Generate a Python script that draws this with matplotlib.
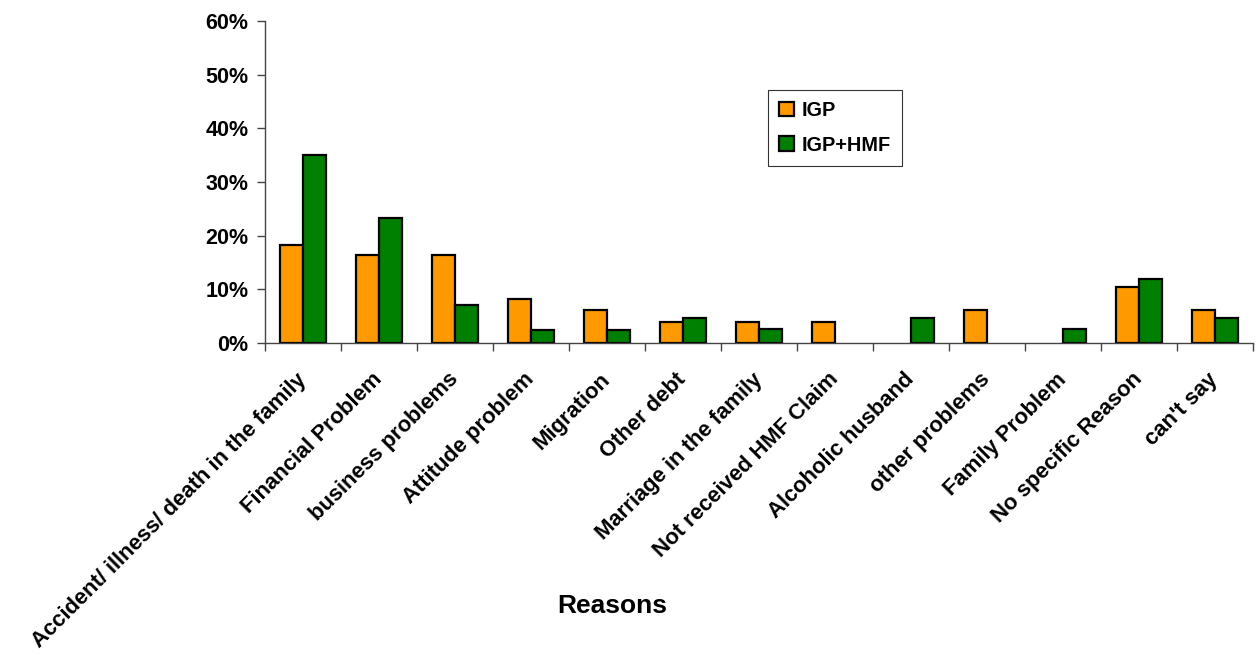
import numpy as np
import matplotlib
matplotlib.use("Agg")
import matplotlib.pyplot as plt
from matplotlib.ticker import FuncFormatter

reasons = [
    "Accident/ illness/ death in the family",
    "Financial Problem",
    "business problems",
    "Attitude problem",
    "Migration",
    "Other debt",
    "Marriage in the family",
    "Not received HMF Claim",
    "Alcoholic husband",
    "other problems",
    "Family Problem",
    "No specific Reason",
    "can't say",
]
igp = [18.2, 16.4, 16.4, 8.2, 6.1, 3.9, 4.0, 4.0, 0.0, 6.2, 0.0, 10.4, 6.2]
igp_hmf = [35.0, 23.2, 7.1, 2.5, 2.5, 4.6, 2.6, 0.0, 4.7, 0.0, 2.6, 11.9, 4.7]

plt.rcParams["font.family"] = ["Liberation Sans", "DejaVu Sans"]
plt.rcParams["font.weight"] = "bold"

fig = plt.figure(figsize=(12.58, 6.55), dpi=100)
ax = fig.add_axes([0.2107, 0.4763, 0.7853, 0.4917])

x = np.arange(len(reasons))
w = 0.3
b1 = ax.bar(x - w / 2, igp, w, color="#FF9900", edgecolor="black", linewidth=1.6, label="IGP")
b2 = ax.bar(x + w / 2, igp_hmf, w, color="#008000", edgecolor="black", linewidth=1.6, label="IGP+HMF")
# empty categories get no outline stub on the axis
for bars, vals in ((b1, igp), (b2, igp_hmf)):
    for rect, v in zip(bars, vals):
        if v == 0:
            rect.set_visible(False)

ax.set_xlim(-0.5, len(reasons) - 0.5)
ax.set_ylim(0, 60)
ax.set_yticks(np.arange(0, 61, 10))
ax.yaxis.set_major_formatter(FuncFormatter(lambda v, p: f"{v:.0f}%"))

# category boundaries carry the tick marks, labels sit under the bar groups
ax.set_xticks(np.arange(-0.5, len(reasons), 1.0))
ax.set_xticklabels([])
ax.set_xticks(x, minor=True)
ax.set_xticklabels(reasons, minor=True, rotation=45, ha="right", va="center",
                   rotation_mode="anchor", fontsize=15.8, fontweight="bold")
ax.tick_params(axis="x", which="minor", length=0, pad=24)
ax.tick_params(axis="x", which="major", length=6, width=1, color="#444444", direction="out")
ax.tick_params(axis="y", length=6, width=1, color="#444444", labelsize=15.5, pad=6)
for lab in ax.get_yticklabels():
    lab.set_fontweight("bold")

for side in ("top", "right"):
    ax.spines[side].set_visible(False)
for side in ("left", "bottom"):
    ax.spines[side].set_color("#444444")
    ax.spines[side].set_linewidth(1.0)

ax.set_xlabel("Reasons", fontsize=19, fontweight="bold")
ax.xaxis.set_label_coords(0.351, -0.78)

leg = ax.legend(loc="upper left", bbox_to_anchor=(0.509, 0.786), borderaxespad=0,
                frameon=True, fancybox=False, edgecolor="black", handlelength=0.75,
                handleheight=0.75, handletextpad=0.4, labelspacing=0.8,
                borderpad=0.55, prop={"weight": "bold", "size": 14.3})
leg.get_frame().set_linewidth(0.8)

fig.savefig("out.png", dpi=100)
